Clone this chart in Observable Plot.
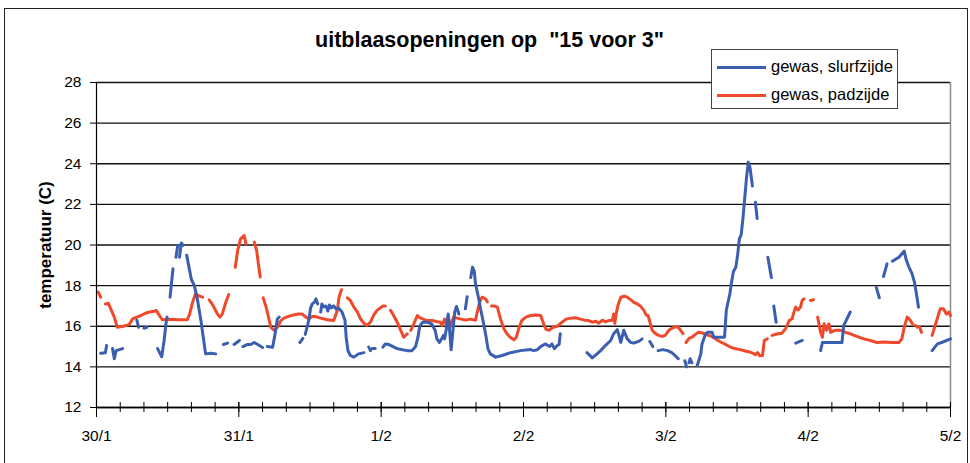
<!DOCTYPE html>
<html>
<head>
<meta charset="utf-8">
<script src="https://cdn.jsdelivr.net/npm/d3@7"></script>
<script src="https://cdn.jsdelivr.net/npm/@observablehq/plot@0.6"></script>
<style>
  html, body { margin: 0; padding: 0; background: #fff; }
  #wrap { position: relative; width: 970px; height: 463px; overflow: hidden; font-family: "Liberation Sans", Arial, sans-serif; }
  #border { position: absolute; left: 4px; top: 8px; width: 962px; height: 520px; border: 1px solid #222; pointer-events: none; }
  #legend { position: absolute; left: 711px; top: 49px; width: 185px; height: 58px; border: 1px solid #444; background: #fff; font-size: 16.5px; color: #000; }
  .lg-row { position: absolute; left: 0; height: 20px; }
  .lg-sw { position: absolute; left: 5px; top: 9px; width: 49px; height: 3px; }
  .lg-tx { position: absolute; left: 59px; top: 0px; white-space: nowrap; }
</style>
</head>
<body>
<div id="wrap"><div id="border"></div></div>
<script>
// ---- data (hours since 30/1 00:00, temperature in C); null = gap ----
const titleText = ['uitblaasopeningen op  "15 voor 3"'];
const yLabelText = ["temperatuur (C)"];
const seriesNames = ["gewas, slurfzijde", "gewas, padzijde"];
const seriesColors = ["#3a5eb0", "#f0482a"];
const dayTicks = [0, 24, 48, 72, 96, 120, 144];
const dayLabels = ["30/1", "31/1", "1/2", "2/2", "3/2", "4/2", "5/2"];
const minorTicks = d3.range(0, 145, 4);
const yTicks = [12, 14, 16, 18, 20, 22, 24, 26, 28];

const blueHours = [
  0.7,1.5,1.7,null,
  2.7,3.0,3.3,4.4,null,
  6.8,7.1,null,
  8.0,8.5,null,
  10.3,11.0,11.4,11.7,11.9,null,
  12.4,12.9,null,
  13.4,13.7,null,
  14.0,14.3,14.6,null,
  15.2,15.6,16.0,16.5,17.0,17.6,18.0,18.4,19.3,20.1,null,
  21.4,22.1,null,
  23.2,24.1,null,
  24.7,25.4,26.0,26.6,27.2,28.0,null,
  28.8,29.7,30.1,30.5,30.8,null,
  34.3,34.8,null,
  35.2,35.8,36.1,36.4,36.8,37.0,37.3,null,
  37.8,38.0,38.3,38.7,39.0,39.3,39.6,40.0,40.4,40.8,41.4,41.9,42.1,42.4,42.8,43.4,44.2,45.1,null,
  45.9,46.2,null,
  46.5,47.0,null,
  48.3,48.7,49.3,50.0,50.7,51.6,52.4,53.2,53.8,54.2,54.5,55.0,55.8,56.5,57.1,57.4,57.8,58.2,58.5,58.7,59.0,59.3,59.5,59.8,60.1,60.4,60.7,61.0,61.1,null,
  62.2,62.5,null,
  63.1,63.4,63.7,63.9,64.4,64.8,65.3,65.7,66.0,66.4,67.3,68.4,69.8,71.5,73.2,73.7,74.3,74.9,75.7,76.4,76.8,77.2,77.7,78.0,78.2,null,
  82.7,83.6,84.4,85.0,85.8,86.7,87.2,87.8,88.1,88.4,88.9,89.5,90.1,90.6,91.5,92.0,null,
  93.3,93.8,null,
  94.7,95.5,96.3,97.0,97.6,98.1,null,
  99.2,99.5,null,
  99.9,100.1,100.4,null,
  101.3,101.6,101.9,102.1,102.6,103.0,103.8,104.1,105.9,106.2,106.8,107.1,107.4,107.8,108.1,108.4,108.7,109.0,109.3,109.6,109.9,110.2,110.6,null,
  111.1,111.4,null,
  113.2,113.8,null,
  114.2,114.6,null,
  117.9,119.0,null,
  122.1,122.4,125.7,126.0,127.1,null,
  131.5,132.0,null,
  132.7,133.3,null,
  134.2,135.3,136.2,136.5,137.0,137.5,137.9,138.2,138.6,null,
  140.9,141.8,142.5,144.0
];
const blueTemps = [
  14.67,14.7,15.05,null,
  14.9,14.4,14.8,14.9,null,
  16.3,15.95,null,
  15.9,15.95,null,
  14.9,14.5,15.3,16.1,16.45,null,
  17.43,18.83,null,
  19.4,19.98,null,
  19.4,20.1,19.98,null,
  19.5,18.9,18.3,18.0,17.35,16.3,15.46,14.64,14.67,14.64,null,
  15.1,15.17,null,
  15.1,15.3,null,
  15.0,15.1,15.1,15.2,15.1,14.95,null,
  15.0,14.97,15.6,16.37,16.45,null,
  15.2,15.4,null,
  15.6,16.3,16.9,17.1,17.2,17.35,17.1,null,
  16.7,17.1,16.95,17.0,16.75,17.05,16.9,17.0,16.85,16.9,16.7,16.3,15.46,14.8,14.56,14.48,14.64,14.7,null,
  14.97,14.8,null,
  14.9,14.9,null,
  14.97,15.13,15.1,15.0,14.9,14.84,14.8,14.8,15.0,15.46,16.0,16.2,16.2,16.12,15.8,15.38,15.2,15.38,15.55,15.38,15.88,16.6,15.95,14.84,15.8,16.7,16.97,16.7,16.6,null,
  16.86,17.45,null,
  18.4,18.9,18.7,18.1,17.43,16.8,16.1,15.46,14.9,14.64,14.48,14.56,14.7,14.8,14.85,14.8,14.84,15.0,15.13,15.0,15.13,14.9,15.05,15.1,15.63,null,
  14.7,14.44,14.64,14.8,15.05,15.3,15.63,15.83,15.55,15.2,15.8,15.38,15.2,15.17,15.27,15.38,null,
  15.25,15.0,null,
  14.8,14.85,14.8,14.7,14.55,14.4,null,
  14.3,14.0,null,
  14.2,14.4,14.2,null,
  14.07,14.35,14.64,15.13,15.55,15.7,15.7,15.46,15.46,16.8,17.6,18.2,18.7,18.9,19.5,20.3,20.5,21.3,22.3,23.3,24.08,23.8,22.9,null,
  22.1,21.3,null,
  19.4,18.4,null,
  17.0,16.2,null,
  15.17,15.3,null,
  14.8,15.2,15.2,16.04,16.7,null,
  17.9,17.4,null,
  18.45,19.07,null,
  19.2,19.4,19.7,19.3,18.9,18.6,18.2,17.7,16.94,null,
  14.8,15.13,15.2,15.38
];

const redHours = [
  0.3,0.7,null,
  1.5,2.0,2.4,3.0,3.5,4.5,5.5,6.1,6.8,7.5,8.3,9.0,9.7,10.1,10.6,11.1,12.5,13.8,15.3,15.7,16.2,16.7,17.2,17.9,null,
  19.0,19.3,19.8,20.3,20.8,21.2,21.8,22.3,null,
  23.4,23.8,24.3,24.9,25.2,null,
  26.6,27.0,27.6,null,
  28.1,28.6,29.0,29.4,30.0,30.5,31.1,31.6,32.5,33.2,34.0,34.7,35.3,35.8,36.4,36.9,37.8,38.9,40.0,40.6,40.9,41.3,null,
  42.3,42.8,43.4,44.0,44.5,45.1,45.6,46.2,46.7,47.3,48.3,48.7,null,
  49.6,50.1,50.7,51.3,51.8,52.4,null,
  53.0,53.5,54.1,54.5,55.5,56.6,57.5,58.0,58.3,58.7,59.0,59.3,59.7,60.2,60.8,61.5,62.3,63.0,63.9,64.2,64.6,65.0,65.6,65.9,null,
  66.6,67.0,67.6,68.1,68.7,69.2,69.8,70.4,70.8,71.2,71.7,72.4,73.2,74.0,74.9,75.4,75.8,76.3,77.0,77.7,78.5,79.2,80.0,80.8,81.6,82.3,83.0,83.6,84.2,84.7,85.3,85.8,86.4,87.0,87.2,87.4,87.6,88.0,88.4,89.0,89.5,90.1,90.6,91.2,91.7,92.3,92.7,93.0,93.4,93.7,94.2,94.8,95.4,95.9,96.5,97.0,97.6,98.1,98.5,98.9,null,
  99.4,99.9,100.4,101.0,101.5,102.0,102.6,103.2,103.7,104.3,104.8,105.4,105.9,106.7,107.6,108.5,109.4,110.3,110.8,111.1,111.5,111.8,112.3,112.6,113.1,null,
  113.9,114.7,115.6,116.2,116.8,117.3,117.6,117.9,118.3,118.7,119.0,119.3,null,
  120.4,120.9,null,
  121.6,122.1,122.4,122.7,123.1,123.5,123.8,124.5,125.5,126.3,127.1,128.2,129.4,130.5,131.6,132.8,134.0,135.3,135.8,136.2,136.7,137.2,137.6,null,
  138.1,138.4,null,
  138.8,139.1,null,
  140.9,141.5,142.0,142.3,142.8,143.3,143.7,144.0
];
const redTemps = [
  17.68,17.43,null,
  17.1,17.13,16.86,16.45,15.95,16.0,16.08,16.37,16.45,16.53,16.65,16.7,16.74,16.78,16.53,16.32,16.35,16.32,16.32,16.6,17.18,17.6,17.5,17.43,null,
  17.3,17.18,16.94,16.65,16.45,16.6,17.18,17.56,null,
  18.9,19.73,20.3,20.47,20.06,null,
  20.14,19.73,18.42,null,
  17.4,16.94,16.45,15.95,15.8,15.95,16.28,16.4,16.5,16.55,16.6,16.6,16.45,16.37,16.48,16.48,16.4,16.32,16.28,16.78,17.43,17.8,null,
  17.4,17.27,16.94,16.7,16.37,16.15,16.04,16.2,16.53,16.78,17.0,17.0,null,
  16.78,16.53,16.2,15.8,15.46,15.63,null,
  15.8,16.12,16.53,16.42,16.3,16.28,16.22,16.2,16.04,16.35,16.1,16.45,16.0,16.45,16.4,16.35,16.3,16.35,16.3,16.7,17.18,17.43,17.35,17.2,null,
  17.0,17.0,16.94,16.37,15.88,15.63,15.45,15.33,15.46,15.88,16.28,16.45,16.53,16.55,16.53,16.12,15.85,15.8,15.95,16.0,16.2,16.35,16.4,16.42,16.35,16.3,16.28,16.2,16.25,16.15,16.3,16.22,16.28,16.3,16.6,16.15,16.6,17.1,17.43,17.48,17.43,17.3,17.18,17.1,17.0,16.78,16.55,16.53,16.12,15.8,15.65,15.55,15.5,15.55,15.8,15.9,15.98,15.95,15.8,15.63,null,
  15.2,15.4,15.46,15.6,15.7,15.68,15.63,15.55,15.5,15.4,15.3,15.2,15.13,15.0,14.9,14.85,14.78,14.72,14.65,14.6,14.7,14.55,14.56,15.3,15.38,null,
  15.55,15.62,15.66,15.88,16.28,16.37,16.7,16.94,16.8,16.94,17.27,17.35,null,
  17.27,17.3,null,
  16.45,15.7,15.46,16.12,15.8,16.12,15.7,15.8,15.8,15.7,15.63,15.5,15.38,15.3,15.2,15.22,15.2,15.2,15.38,15.95,16.45,16.3,16.12,null,
  16.04,15.95,null,
  15.95,15.7,null,
  15.55,16.12,16.6,16.86,16.86,16.6,16.7,16.53
];

// ---- build tables ----
const toRows = (hs, vs) => hs.map((h, i) => ({h, v: vs[i]}));
const blueRows = toRows(blueHours, blueTemps);
const redRows = toRows(redHours, redTemps);

const font = "'Liberation Sans', Arial, sans-serif";

const chart = Plot.plot({
  width: 970,
  height: 463,
  marginLeft: 96,
  marginRight: 20,
  marginTop: 82,
  marginBottom: 56,
  style: {fontFamily: font, fontSize: "15px", color: "#000", background: "transparent", overflow: "visible"},
  x: {domain: [0, 144]},
  y: {domain: [12, 28]},
  marks: [
    Plot.gridY({ticks: yTicks, stroke: "#111", strokeOpacity: 1, strokeWidth: 1.3}),
    Plot.ruleX([144], {stroke: "#8c8c8c", strokeWidth: 1.5}),
    Plot.line(redRows, {x: "h", y: "v", stroke: seriesColors[1], strokeWidth: 3, strokeLinejoin: "round"}),
    Plot.line(blueRows, {x: "h", y: "v", stroke: seriesColors[0], strokeWidth: 3, strokeLinejoin: "round"}),
    Plot.ruleX([0], {stroke: "#000", strokeWidth: 1.2}),
    Plot.ruleY([12], {stroke: "#000", strokeWidth: 1.4}),
    Plot.axisY({ticks: yTicks, tickSize: 6, tickPadding: 9, fontSize: 15.5, label: null, stroke: "#000"}),
    Plot.axisX({ticks: minorTicks, tickSize: 10, dy: -5, tickFormat: () => "", label: null, stroke: "#000"}),
    Plot.axisX({ticks: dayTicks, tickSize: 15, dy: -5, tickPadding: 12, tickFormat: (d) => dayLabels[dayTicks.indexOf(d)], fontSize: 15.5, label: null, stroke: "#000"}),
    Plot.text(titleText, {text: d => d, frameAnchor: "top", lineAnchor: "middle", dy: -42, dx: -34, fontWeight: "bold", fontSize: 21.5}),
    Plot.text(yLabelText, {text: d => d, frameAnchor: "left", textAnchor: "middle", lineAnchor: "middle", dx: -51, rotate: -90, fontWeight: "bold", fontSize: 17})
  ]
});

const wrap = document.getElementById("wrap");
chart.style.position = "absolute";
chart.style.left = "0px";
chart.style.top = "0px";
wrap.insertBefore(chart, wrap.firstChild);

// legend
const legend = document.createElement("div");
legend.id = "legend";
seriesNames.forEach((name, i) => {
  const row = document.createElement("div");
  row.className = "lg-row";
  row.style.top = (7 + i * 28) + "px";
  row.style.width = "100%";
  const sw = document.createElement("div");
  sw.className = "lg-sw";
  sw.style.background = seriesColors[i];
  const tx = document.createElement("div");
  tx.className = "lg-tx";
  tx.textContent = name;
  row.appendChild(sw);
  row.appendChild(tx);
  legend.appendChild(row);
});
wrap.appendChild(legend);
</script>
</body>
</html>
